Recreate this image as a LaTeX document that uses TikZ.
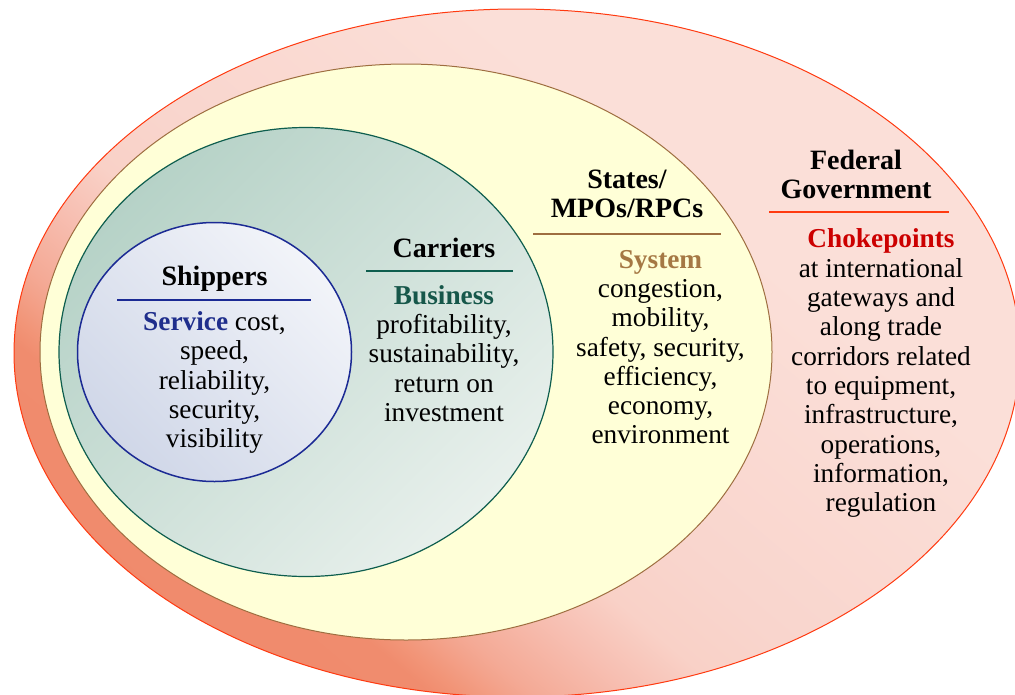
\documentclass[tikz,border=0pt]{standalone}
\usepackage{fontspec}
\setmainfont{Liberation Serif}

\definecolor{fedline}{HTML}{FF3A10}
\definecolor{fedword}{HTML}{CC0000}
\definecolor{fedA}{HTML}{EE8466}
\definecolor{fedB}{HTML}{F08C6E}
\definecolor{fedC}{HTML}{F29578}
\definecolor{fedD}{HTML}{F3A38C}
\definecolor{fedE}{HTML}{F4AA96}
\definecolor{fedF}{HTML}{F7BFB2}
\definecolor{fedG}{HTML}{F9D1C7}
\definecolor{fedH}{HTML}{F9D5CD}
\definecolor{fedI}{HTML}{FBDFD8}
\definecolor{stateline}{HTML}{9E6E40}
\definecolor{statefill}{HTML}{FFFFD7}
\definecolor{stateword}{HTML}{A57844}
\definecolor{carrline}{HTML}{0E5E4E}
\definecolor{carrlo}{HTML}{B6D2C7}
\definecolor{carrhi}{HTML}{E8F0EC}
\definecolor{carrword}{HTML}{16574A}
\definecolor{shipline}{HTML}{1B2A94}
\definecolor{shiplo}{HTML}{D0D7E8}
\definecolor{shiphi}{HTML}{F2F4F9}
\definecolor{shipword}{HTML}{1F2E8C}

\pgfdeclareverticalshading{fedshade}{100bp}{color(0bp)=(fedA); color(31bp)=(fedB);
    color(32.2bp)=(fedC); color(34bp)=(fedD); color(35bp)=(fedE); color(39bp)=(fedF);
    color(42.5bp)=(fedG); color(47bp)=(fedH); color(64bp)=(fedI); color(100bp)=(fedI)}

\begin{document}
\begin{tikzpicture}[x=1pt,y=-1pt,
        ring/.style={line width=1pt},
        head/.style={
            anchor=north,
            align=center,
            inner sep=0pt,
            font=\fontsize{28}{29.2}\selectfont\bfseries
        },
        body/.style={
            anchor=north,
            align=center,
            inner sep=0pt,
            font=\fontsize{27.3}{29.3}\selectfont
        },
        rule/.style={line width=1.3pt}
    ]
    \useasboundingbox (0,0) rectangle (1015,694);
    \clip (0,0) rectangle (1015,694);

    % rings, outside in
    \draw[ring, draw=fedline, shading=fedshade, shading angle=-40.2]
        (517,353) ellipse [x radius=503pt, y radius=344pt];
    \draw[ring, draw=stateline, fill=statefill]
        (406,352) ellipse [x radius=366pt, y radius=288pt];
    \draw[ring, line width=1.2pt, draw=carrline, top color=carrlo, bottom color=carrhi, shading angle=45]
        (306,352) ellipse [x radius=247pt, y radius=224.5pt];
    \draw[ring, line width=1.5pt, draw=shipline, bottom color=shiplo, top color=shiphi, shading angle=-45]
        (214.5,352) ellipse [x radius=137pt, y radius=129.5pt];

    % Federal
    \node[head] (fedhead) at (856,149.6) {Federal\\Government};
    \draw[rule, fedline] (769,212) -- (949,212);
    \node[body] (fedbody) at (881,228.8) {\textbf{\color{fedword}Chokepoints}\\at international\\gateways and\\along trade\\corridors related\\to equipment,\\infrastructure,\\operations,\\information,\\regulation};

    % States
    \node[head] (statehead) at (627,169.6) {States/\\MPOs/RPCs};
    \draw[rule, stateline] (533,234) -- (721,234);
    \node[body] (statebody) at (660.5,249.9) {\textbf{\color{stateword}System}\\congestion,\\mobility,\\safety, security,\\efficiency,\\economy,\\environment};

    % Carriers
    \node[head] (carrhead) at (444,238) {Carriers};
    \draw[rule, carrline] (366,271) -- (513,271);
    \node[body] (carrbody) at (444,285) {\textbf{\color{carrword}Business}\\profitability,\\sustainability,\\return on\\investment};

    % Shippers
    \node[head] (shiphead) at (214.5,266.2) {Shippers};
    \draw[rule, shipline] (117,300) -- (311,300);
    \node[body] (shipbody) at (214.5,311.5) {\textbf{\color{shipword}Service} cost,\\speed,\\reliability,\\security,\\visibility};

\end{tikzpicture}
\end{document}
